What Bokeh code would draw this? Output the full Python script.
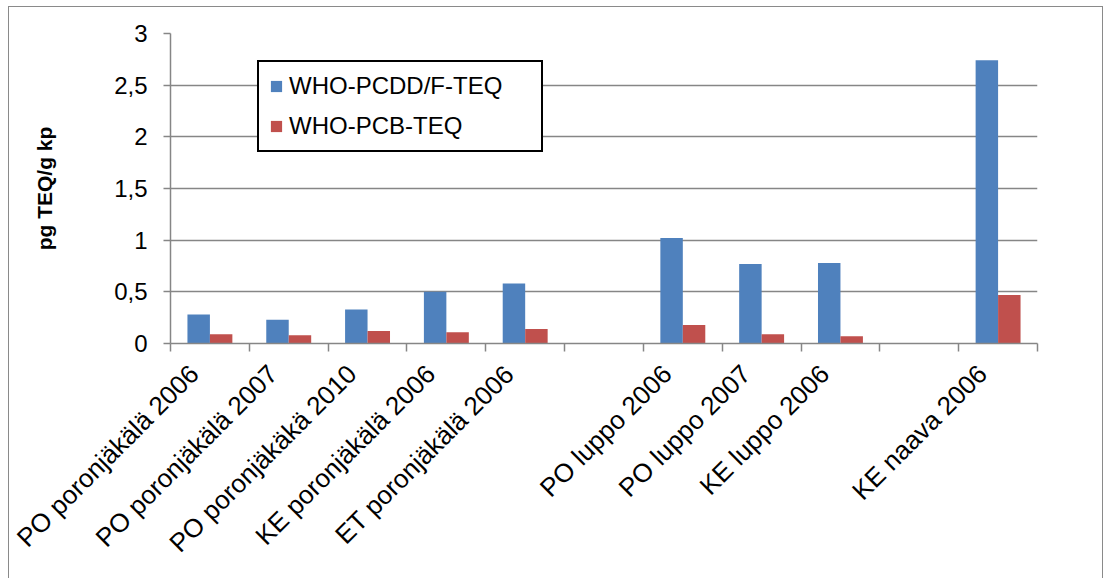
import math
from bokeh.plotting import figure
from bokeh.models import Range1d, FixedTicker, Legend, LegendItem, ColumnDataSource
from bokeh.embed import file_html
from bokeh.resources import INLINE

categories = ["PO poronjäkälä 2006", "PO poronjäkälä 2007", "PO poronjäkäkä 2010",
              "KE poronjäkälä 2006", "ET poronjäkälä 2006", "",
              "PO luppo 2006", "PO luppo 2007", "KE luppo 2006", "",
              "KE naava 2006"]
pcdd = [0.28, 0.23, 0.33, 0.50, 0.58, None, 1.02, 0.77, 0.78, None, 2.74]
pcb = [0.09, 0.08, 0.12, 0.11, 0.14, None, 0.18, 0.09, 0.07, None, 0.47]
series_names = ["WHO-PCDD/F-TEQ", "WHO-PCB-TEQ"]
y_ticks = [0, 0.5, 1, 1.5, 2, 2.5, 3]
y_tick_labels = ["0", "0,5", "1", "1,5", "2", "2,5", "3"]
y_title = "pg TEQ/g kp"

BLUE = "#4F81BD"
RED = "#C0504D"
GRID = "#868686"
FONT = "Liberation Sans"

n = len(categories)
bw = 0.285
label_shift = 0.2  # labels sit slightly left of the category centre, as in the original

p = figure(width=1093, height=571, output_backend="svg", toolbar_location=None,
           x_range=Range1d(0, n), y_range=Range1d(0, 3),
           min_border_left=161, min_border_right=65, min_border_top=26, min_border_bottom=235)
p.margin = (7, 0, 0, 9)
p.styles = {"outline": "1.5px solid #8a8a8a"}
p.outline_line_color = None
p.background_fill_color = "white"
p.border_fill_color = "white"

def src(vals, offset):
    xs, tops = [], []
    for i, v in enumerate(vals):
        if v is not None:
            xs.append(i + 0.5 + offset)
            tops.append(v)
    return ColumnDataSource(dict(x=xs, top=tops))

r1 = p.vbar(x="x", top="top", width=bw, source=src(pcdd, -bw / 2), fill_color=BLUE, line_color=None)
r2 = p.vbar(x="x", top="top", width=bw, source=src(pcb, bw / 2), fill_color=RED, line_color=None)

# x axis
label_pos = [i + 0.5 - label_shift for i in range(n)]
p.xaxis.ticker = FixedTicker(ticks=label_pos, minor_ticks=list(range(n + 1)))
p.xaxis.major_label_overrides = {c: lab for c, lab in zip(label_pos, categories)}
p.xaxis.major_label_orientation = math.pi / 4
p.xaxis.major_tick_out = 0
p.xaxis.major_tick_in = 0
p.xaxis.minor_tick_out = 8
p.xaxis.minor_tick_in = 0
p.xaxis.minor_tick_line_color = GRID
p.xaxis.axis_line_color = GRID
p.xaxis.axis_line_width = 1.5
p.xaxis.minor_tick_line_width = 1.5
p.xaxis.major_label_text_font = FONT
p.xaxis.major_label_text_font_size = "26px"
p.xaxis.major_label_text_color = "black"
p.xaxis.major_label_standoff = 18
p.xgrid.grid_line_color = None

# y axis
p.yaxis.ticker = FixedTicker(ticks=y_ticks, minor_ticks=[])
p.yaxis.major_label_overrides = {float(t): lab for t, lab in zip(y_ticks, y_tick_labels)}
p.yaxis.major_tick_out = 7
p.yaxis.major_tick_in = 0
p.yaxis.major_tick_line_color = GRID
p.yaxis.major_tick_line_width = 1.5
p.yaxis.axis_line_color = GRID
p.yaxis.axis_line_width = 1.5
p.yaxis.major_label_text_font = FONT
p.yaxis.major_label_text_font_size = "24px"
p.yaxis.major_label_text_color = "black"
p.yaxis.major_label_standoff = 16
p.yaxis.axis_label = y_title
p.yaxis.axis_label_text_font = FONT
p.yaxis.axis_label_text_font_style = "bold"
p.yaxis.axis_label_text_font_size = "21px"
p.yaxis.axis_label_text_color = "black"
p.yaxis.axis_label_standoff = 55
p.ygrid.grid_line_color = GRID
p.ygrid.grid_line_width = 1.5
p.ygrid.ticker = FixedTicker(ticks=y_ticks)

legend = Legend(items=[LegendItem(label=series_names[0], renderers=[r1]),
                       LegendItem(label=series_names[1], renderers=[r2])],
                location=(87, 191), orientation="vertical")
legend.border_line_color = "black"
legend.border_line_alpha = 1.0
legend.border_line_width = 2
legend.background_fill_color = "white"
legend.background_fill_alpha = 1
legend.label_text_font = FONT
legend.label_text_font_size = "24px"
legend.label_text_color = "black"
legend.glyph_width = 14
legend.glyph_height = 14
legend.label_standoff = 6
legend.padding = 10
legend.spacing = 12
legend.margin = 0
legend.label_width = 242
p.add_layout(legend)

open("out.html", "w").write(file_html(p, INLINE))
